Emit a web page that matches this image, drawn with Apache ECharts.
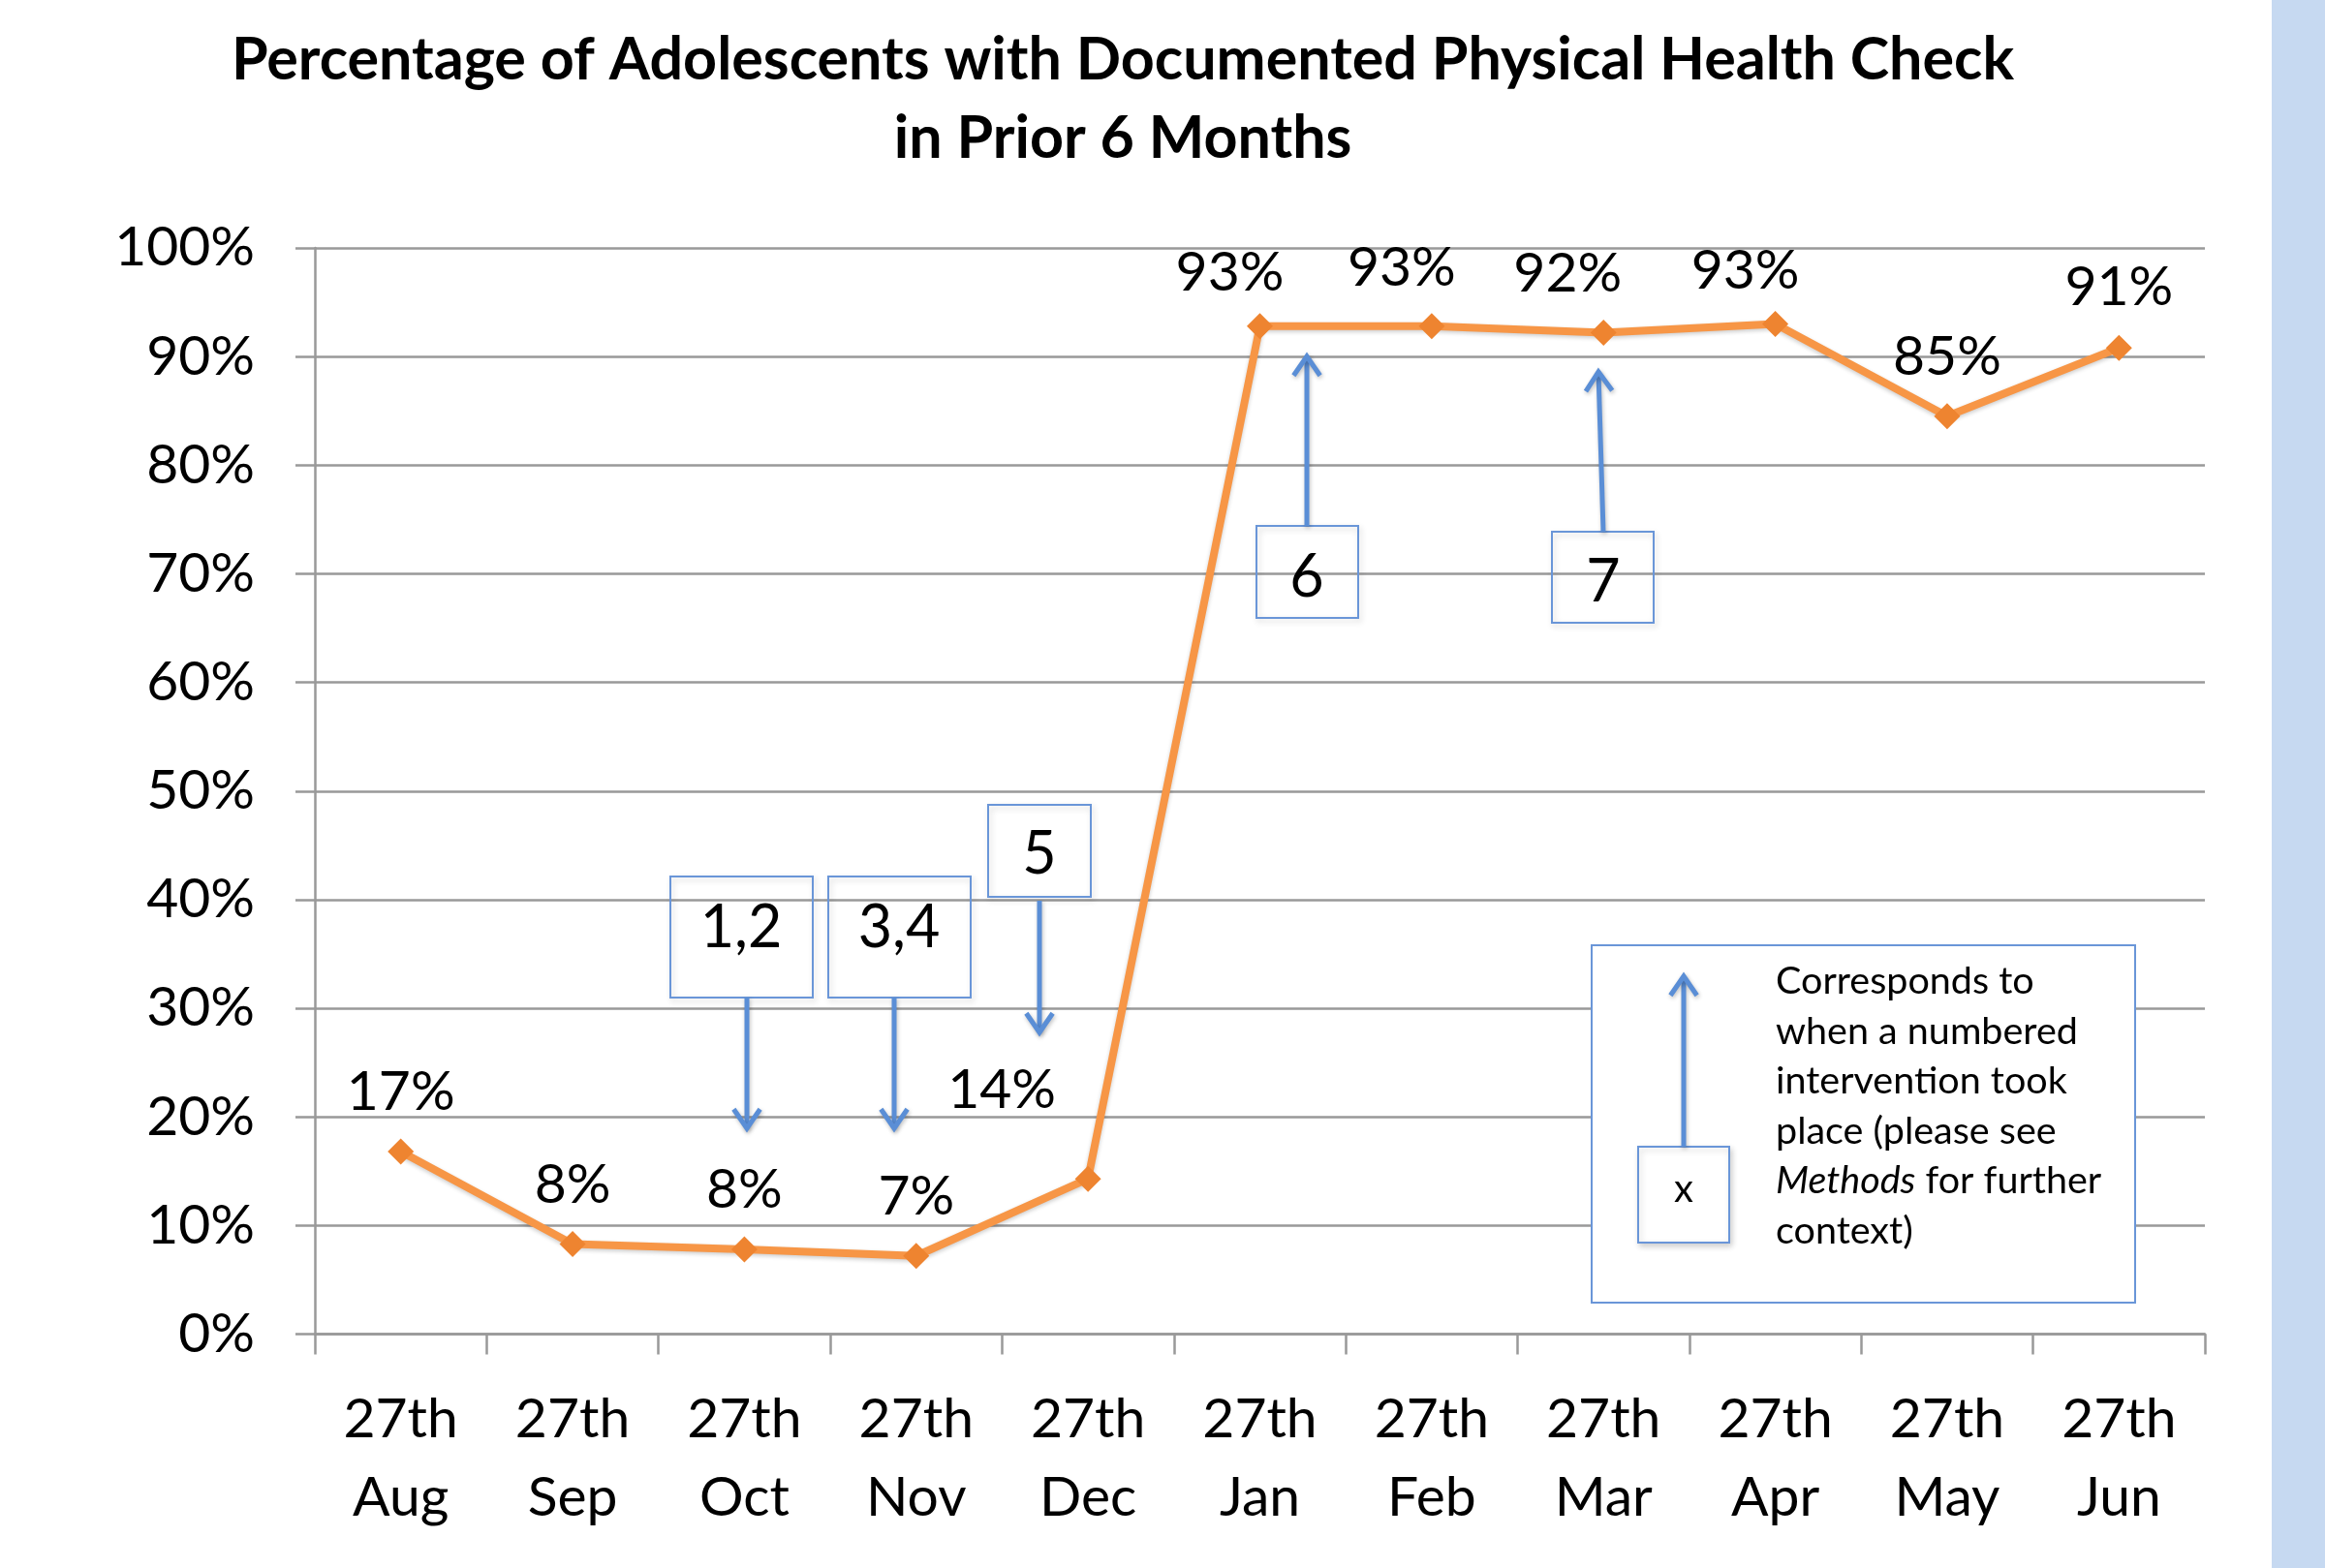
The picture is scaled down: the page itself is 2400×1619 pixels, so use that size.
<!DOCTYPE html>
<html><head><meta charset="utf-8">
<script src="https://cdn.jsdelivr.net/npm/echarts@6/dist/echarts.min.js"></script>
<style>html,body{margin:0;padding:0;background:#fff}#c{width:2400px;height:1619px}</style>
</head><body><div id="c"></div>
<script>
const categories = ['27th\nAug','27th\nSep','27th\nOct','27th\nNov','27th\nDec','27th\nJan','27th\nFeb','27th\nMar','27th\nApr','27th\nMay','27th\nJun'];
const values = [16.8, 8.3, 7.8, 7.2, 14.3, 92.8, 92.8, 92.2, 93.0, 84.5, 90.8];
const valueLabels = ['17%','8%','8%','7%','14%','93%','93%','92%','93%','85%','91%'];
const yTickStep = 10;
const interventionLabels = ['1,2','3,4','5','6','7'];
const titleLines = ['Percentage of Adolescents with Documented Physical Health Check','in Prior 6 Months'];

const FONT = 'Lato';
const BLUE = '#5A8ED6';
const BOXBLUE = '#6A96D8';

// label placement (layout only)
const labelOffsets = [[0,-61],[0,-61],[0,-61],[0,-61],[-89,-92],[-31,-55],[-31,-60],[-37,-61],[-31,-55],[0,-61],[0,-63]];

const seriesData = values.map((v,i)=>({
  value: v,
  label: {offset: labelOffsets[i], formatter: valueLabels[i]}
}));

function arrow(x1,y1,x2,y2){
  const ang = Math.atan2(y2-y1, x2-x1);
  const L = 24, a = Math.PI/5.2;
  const p1 = [x2 - L*Math.cos(ang-a), y2 - L*Math.sin(ang-a)];
  const p2 = [x2 - L*Math.cos(ang+a), y2 - L*Math.sin(ang+a)];
  const st = {stroke: BLUE, lineWidth: 5, fill: null, lineCap:'butt', lineJoin:'miter', shadowBlur:4, shadowColor:'rgba(0,0,0,0.25)', shadowOffsetX:1, shadowOffsetY:2};
  return [
    {type:'polyline', shape:{points:[[x1,y1],[x2,y2]]}, style: st, z: 20},
    {type:'polyline', shape:{points:[p1,[x2,y2],p2]}, style: st, z: 20}
  ];
}
function box(x,y,w,h,fill){
  return {type:'rect', shape:{x:x,y:y,width:w,height:h}, style:{stroke:BOXBLUE, lineWidth:2, fill: fill||'rgba(0,0,0,0)', shadowBlur:6, shadowColor:'rgba(0,0,0,0.18)', shadowOffsetX:2, shadowOffsetY:3}, z: 19};
}
function txt(x,y,t,size){
  return {type:'text', x:x, y:y, style:{text:t, fill:'#000', font: (size||61)+'px '+FONT, align:'center', verticalAlign:'middle'}, z: 21};
}

const graphics = [
  {type:'rect', shape:{x:2345,y:0,width:55,height:1619}, style:{fill:'#C6D9F1'}, z: 1},
  {type:'text', x:1159, y:62, style:{text:titleLines[0], fill:'#000', font:'bold 61px '+FONT, align:'center', verticalAlign:'middle'}},
  {type:'text', x:1159, y:143, style:{text:titleLines[1], fill:'#000', font:'bold 61px '+FONT, align:'center', verticalAlign:'middle'}},
  box(692,905,147,125), txt(765,958,interventionLabels[0]),
  ...arrow(771,1030,771,1165),
  box(855,905,147,125), txt(928,958,interventionLabels[1]),
  ...arrow(923,1030,923,1165),
  box(1020,831,106,95), txt(1073,882,interventionLabels[2]),
  ...arrow(1073,930,1073,1066),
  box(1297,543,105,95), txt(1349,596,interventionLabels[3]),
  ...arrow(1349,543,1349,368),
  box(1602,549,105,94), txt(1655,601,interventionLabels[4]),
  ...arrow(1655,549,1650,384),
  // legend
  {type:'rect', shape:{x:1643,y:976,width:561,height:369}, style:{stroke:BOXBLUE, lineWidth:2, fill:'#fff'}, z: 18},
  box(1691,1184,94,99,'#fff'), txt(1738,1228,'x',40),
  ...arrow(1738,1184,1738,1008),
  {type:'text', x:1833, y:988, z:21, style:{
    text:'Corresponds to\nwhen a numbered\nintervention took\nplace (please see\n{i|Methods} for further\ncontext)',
    fill:'#000', font:'39.5px '+FONT, lineHeight:51.5, align:'left', verticalAlign:'top',
    rich:{i:{fontStyle:'italic', fontFamily:FONT, fontSize:39.5, lineHeight:51.5}}
  }}
];

const chart = echarts.init(document.getElementById('c'), null, {renderer:'canvas'});
chart.setOption({
  backgroundColor:'#fff',
  animation:false,
  textStyle:{fontFamily:FONT},
  grid:{left:325, right:124, top:256, bottom:241.5, containLabel:false},
  xAxis:{
    type:'category', data:categories, boundaryGap:true,
    axisLine:{lineStyle:{color:'#999', width:2.5}},
    axisTick:{show:true, length:21, lineStyle:{color:'#999', width:2.5}},
    axisLabel:{color:'#000', fontSize:57, lineHeight:81, margin:48, fontFamily:FONT, interval:0}
  },
  yAxis:{
    type:'value', min:0, max:100, interval:yTickStep,
    axisLine:{show:true, lineStyle:{color:'#999', width:2.5}},
    axisTick:{show:true, length:20, lineStyle:{color:'#999', width:2.5}},
    splitLine:{lineStyle:{color:'#999', width:2.5}},
    axisLabel:{color:'#000', fontSize:57, margin:62, fontFamily:FONT, formatter:'{value}%'}
  },
  series:[{
    type:'line', data:seriesData,
    lineStyle:{color:'#F79646', width:8, shadowBlur:4, shadowColor:'rgba(0,0,0,0.2)', shadowOffsetY:2},
    symbol:'diamond', symbolSize:27,
    itemStyle:{color:'#EE8430'},
    label:{show:true, position:'inside', color:'#000', fontSize:57, fontFamily:FONT},
    z: 5
  }],
  graphic: graphics
});
</script></body></html>
